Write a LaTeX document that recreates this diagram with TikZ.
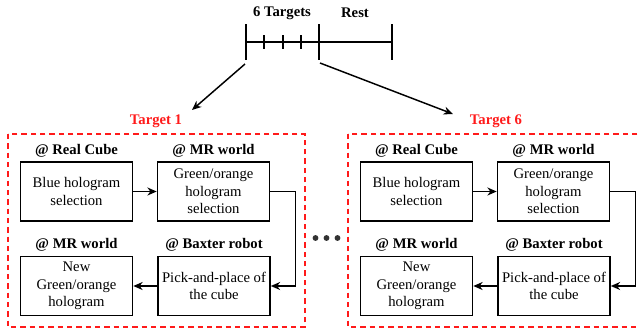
\documentclass[tikz,border=0pt]{standalone}
\usepackage{fontspec}
\setmainfont{Liberation Serif}[BoldFont={Liberation Serif Bold}]
\usetikzlibrary{arrows.meta,positioning}
\definecolor{Dash}{HTML}{FF1A1A}
\definecolor{Dots}{HTML}{333333}
\tikzset{stepbox/.style={draw,line width=1.2pt,minimum width=84pt,minimum height=44pt,align=center,inner sep=2pt},where/.style={font=\fontsize{11}{13}\selectfont\bfseries,inner sep=1pt},flow/.style={-{Stealth[length=7pt,width=6pt]},line width=1.1pt},group/.style={draw=Dash,dash pattern=on 4pt off 3pt,line width=1.2pt},tick/.style={line width=1.2pt}}

\begin{document}
\begin{tikzpicture}[x=0.75pt,y=-0.75pt,font=\fontsize{11}{13}\selectfont]
  \clip (0,0) rectangle (640,333);
  % timeline
  \draw[tick] (246,42) -- (392,42);
  \foreach \t in {246,319,392} \draw[tick] (\t,24) -- (\t,60);
  \foreach \t in {264,283,301} \draw[tick] (\t,35) -- (\t,49);
  \node[where] (six) at (282,13) {6 Targets};
  \node[where] (rest) at (355,13) {Rest};
  \coordinate (first) at (245,64);
  \coordinate (last) at (320,63);
  \coordinate (in1) at (192,110);
  \coordinate (in6) at (453,114);
  \draw[flow] (first) -- (in1);
  \draw[flow] (last) -- (in6);
  % one group per target
  \foreach \n/\dx in {1/0,6/340}{
    \draw[group] ({\dx+8},134) rectangle ({\dx+305},327);
    \node[where,text=Dash] (tgt\n) at ({\dx+156},121) {Target \n};
    \node[stepbox] (blue\n) at ({\dx+76.5},191.5) {Blue hologram\\selection};
    \node[stepbox] (green\n) at ({\dx+213.5},191.5) {Green/orange\\hologram\\selection};
    \node[stepbox] (pick\n) at ({\dx+214},286) {Pick-and-place of\\the cube};
    \node[stepbox] (newholo\n) at ({\dx+76.5},286) {New\\Green/orange\\hologram};
    \node[where,above=2pt of blue\n] (real\n) {@ Real Cube};
    \node[where,above=2pt of green\n] (mr\n) {@ MR world};
    \node[where,above=2pt of pick\n] (baxter\n) {@ Baxter robot};
    \node[where,above=2pt of newholo\n] (mrnew\n) {@ MR world};
    \draw[flow] (blue\n) -- (green\n);
    \draw[flow] (green\n.east) -- ++(25,0) |- (pick\n.east);
    \draw[flow] (pick\n) -- (newholo\n);
  }
  % dots between groups
  \foreach \d in {315.5,326.5,337.5} \fill[Dots] (\d,238) circle (2.2pt);
\end{tikzpicture}
\end{document}
